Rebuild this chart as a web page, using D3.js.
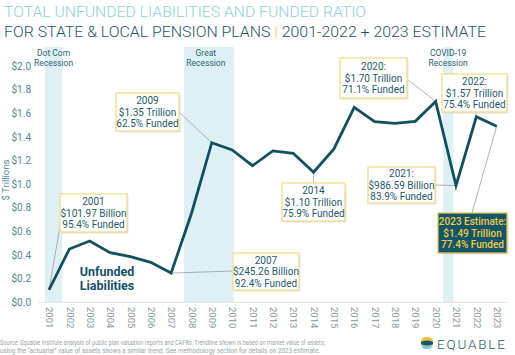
<!DOCTYPE html>
<html>
<head>
<meta charset="utf-8">
<script src="https://cdn.jsdelivr.net/npm/d3@7"></script>
<style>
  html, body { margin: 0; padding: 0; background: #fff; }
  svg { display: block; font-family: Roboto, "DejaVu Sans", sans-serif; }
</style>
</head>
<body>
<svg id="chart" width="515" height="355"></svg>
<script>
// ---------------- DATA ----------------
const years = [2001,2002,2003,2004,2005,2006,2007,2008,2009,2010,2011,2012,2013,2014,2015,2016,2017,2018,2019,2020,2021,2022,2023];
const unfunded = [0.102,0.449,0.517,0.418,0.384,0.336,0.245,0.75,1.35,1.288,1.155,1.28,1.26,1.10,1.297,1.65,1.528,1.514,1.531,1.70,0.987,1.57,1.49];
const yTicks = [0,0.2,0.4,0.6,0.8,1.0,1.2,1.4,1.6,1.8,2.0];
const recessionNames = [["Dot Com","Recession"],["Great","Recession"],["COVID-19","Recession"]];
const recessionSpans = [[2000.8,2001.65],[2007.63,2010.08],[2020.37,2020.86]];
const annotationYears = [2001,2007,2009,2014,2020,2021,2022,2023];
const annotationTexts = [
  ["2001","$101.97 Billion","95.4% Funded"],
  ["2007","$245.26 Billion","92.4% Funded"],
  ["2009","$1.35 Trillion","62.5% Funded"],
  ["2014","$1.10 Trillion","75.9% Funded"],
  ["2020:","$1.70 Trillion","71.1% Funded"],
  ["2021:","$986.59 Billion","83.9% Funded"],
  ["2022:","$1.57 Trillion","75.4% Funded"],
  ["2023 Estimate:","$1.49 Trillion","77.4% Funded"]
];
const seriesLabel = ["Unfunded","Liabilities"];
const titleLine1 = "TOTAL UNFUNDED LIABILITIES AND FUNDED RATIO";
const titleLine2a = "FOR STATE & LOCAL PENSION PLANS ";
const titleLine2b = "|";
const titleLine2c = " 2001-2022 + 2023 ESTIMATE";
const sourceLines = [
  "Source: Equable Institute analysis of public plan valuation reports and CAFRs. Trendline shown is based on market value of assets;",
  "using the \u201cactuarial\u201d value of assets shows a similar trend.  See methodology section for details on 2023 estimate."
];

// ---------------- LAYOUT ----------------
const svg = d3.select("#chart");
const x = d3.scaleLinear().domain([2001, 2023]).range([49, 496.7]);
const y = d3.scaleLinear().domain([0, 2]).range([302, 66]);

const dark = "#124f5f";
const boxText = "#1f5a6a";

// Title
svg.append("text").attr("x", 4).attr("y", 17)
  .attr("font-size", 14).attr("font-weight", 300).attr("fill", "#8fcfd6")
  .attr("textLength", 362).attr("lengthAdjust", "spacingAndGlyphs")
  .text(titleLine1);
const t2 = svg.append("text").attr("x", 4).attr("y", 37)
  .attr("font-size", 15).attr("font-weight", 300).attr("fill", "#1f5463")
  .attr("textLength", 482).attr("lengthAdjust", "spacingAndGlyphs");
t2.append("tspan").text(titleLine2a);
t2.append("tspan").attr("fill", "#f0c542").text(titleLine2b);
t2.append("tspan").text(titleLine2c);

// Recession bands
const rec = svg.append("g");
recessionSpans.forEach((s, i) => {
  rec.append("rect")
    .attr("x", x(s[0])).attr("y", 47)
    .attr("width", x(s[1]) - x(s[0])).attr("height", y(0) - 47)
    .attr("fill", "#dff0f4");
  const cx = (x(s[0]) + x(s[1])) / 2 - (i === 1 ? 3 : 0);
  recessionNames[i].forEach((ln, j) => {
    rec.append("text").attr("x", cx).attr("y", 55.5 + j * 10.5)
      .attr("text-anchor", "middle").attr("font-size", 8.5)
      .attr("fill", "#2c6373").text(ln);
  });
});

// Axis baseline
svg.append("line").attr("x1", 38).attr("x2", 508)
  .attr("y1", y(0) + 0.5).attr("y2", y(0) + 0.5)
  .attr("stroke", "#e6e8e8").attr("stroke-width", 1);

// Y axis
const yAxis = svg.append("g").attr("transform", "translate(31,0)")
  .call(d3.axisLeft(y).tickValues(yTicks).tickSize(0).tickPadding(0)
    .tickFormat(d => "$" + d3.format(".1f")(d)));
yAxis.select(".domain").remove();
yAxis.selectAll("text").attr("font-size", 10).attr("fill", "#4f8893")
  .attr("font-family", "Roboto, sans-serif");

svg.append("text")
  .attr("transform", "translate(9,180) rotate(-90)")
  .attr("text-anchor", "middle").attr("font-size", 9.5)
  .attr("fill", "#4f8893").text("$ Trillions");

// X axis
const xAxis = svg.append("g").attr("transform", `translate(0,${y(0) + 5})`)
  .call(d3.axisBottom(x).tickValues(years).tickSize(0).tickFormat(d3.format("d")));
xAxis.select(".domain").remove();
xAxis.selectAll("text")
  .attr("font-size", 9.5).attr("fill", "#8b989c")
  .attr("font-family", "Roboto, sans-serif")
  .attr("transform", "rotate(90)")
  .attr("text-anchor", "start").attr("dy", "0.35em").attr("x", 0).attr("y", 0);

// Annotation layout (box rect [x, y, w, h], leader end on box)
const boxLayout = {
  2001: {b: [60, 194, 67, 38], lx: 62, ly: 215},
  2007: {b: [233, 253, 66, 37], lx: 233, ly: 271},
  2009: {b: [116, 93, 63, 38], lx: 179, ly: 112},
  2014: {b: [282, 183, 63, 38], lx: null, ly: 183},
  2020: {b: [340, 58, 67, 40], lx: 407, ly: 79},
  2021: {b: [368, 167, 67, 36], lx: 435, ly: 185},
  2022: {b: [442, 74, 65, 38], lx: 476, ly: 112},
  2023: {b: [438, 213, 69, 40], lx: 472, ly: 213}
};

const leaders = svg.append("g");
const line = d3.line().x((d, i) => x(years[i])).y(d => y(d));
annotationYears.forEach((yr, i) => {
  const L = boxLayout[yr];
  const v = unfunded[years.indexOf(yr)];
  leaders.append("line")
    .attr("x1", x(yr)).attr("y1", y(v))
    .attr("x2", L.lx === null ? x(yr) : L.lx).attr("y2", L.ly)
    .attr("stroke", "#8a9599").attr("stroke-width", 0.7);
});

// Line
svg.append("path").datum(unfunded)
  .attr("d", line).attr("fill", "none")
  .attr("stroke", dark).attr("stroke-width", 2.8)
  .attr("stroke-linejoin", "miter");

// Series label
seriesLabel.forEach((t, i) => {
  svg.append("text").attr("x", 107).attr("y", 276 + i * 13.5)
    .attr("text-anchor", "middle").attr("font-size", 12.5)
    .attr("font-weight", "bold").attr("fill", "#17506a").text(t);
});

// Boxes
const boxes = svg.append("g");
annotationYears.forEach((yr, i) => {
  const L = boxLayout[yr];
  const [bx, by, bw, bh] = L.b;
  const est = yr === 2023;
  boxes.append("rect").attr("x", bx + 1.5).attr("y", by + 1.5)
    .attr("width", bw).attr("height", bh).attr("fill", "#d9d9d9").attr("opacity", 0.7);
  boxes.append("rect").attr("x", bx).attr("y", by)
    .attr("width", bw).attr("height", bh)
    .attr("fill", est ? "#145567" : "#ffffff")
    .attr("stroke", est ? "#d9c25a" : "#f2dc8c").attr("stroke-width", 1.3);
  annotationTexts[i].forEach((t, j) => {
    boxes.append("text").attr("x", bx + bw / 2)
      .attr("y", by + bh / 2 + (j - 1) * 11.5).attr("dy", "0.35em")
      .attr("text-anchor", "middle").attr("font-size", 10)
      .attr("fill", est ? "#eccb4a" : boxText)
      .attr("font-weight", est ? 500 : "normal")
      .text(t);
  });
});

// Source
sourceLines.forEach((t, i) => {
  svg.append("text").attr("x", 0).attr("y", 345 + i * 8)
    .attr("font-size", 7.3).attr("fill", "#9aa4a7")
    .attr("textLength", i === 0 ? 325 : 320).attr("lengthAdjust", "spacingAndGlyphs")
    .text(t);
});

// Logo
const logo = svg.append("g");
const cx = 427, cy = 343, r = 6.3;
logo.append("clipPath").attr("id", "lc").append("circle").attr("cx", cx).attr("cy", cy).attr("r", r);
const lg = logo.append("g").attr("clip-path", "url(#lc)");
lg.append("rect").attr("x", cx - r).attr("y", cy - r).attr("width", 2 * r).attr("height", 2 * r).attr("fill", "#86c9d8");
lg.append("rect").attr("x", cx - r).attr("y", cy - r).attr("width", 2 * r).attr("height", r).attr("fill", "#f1c03a");
lg.append("ellipse").attr("cx", cx).attr("cy", cy).attr("rx", r).attr("ry", 2.6).attr("fill", "#1d5566");
logo.append("text").attr("x", 437).attr("y", 349)
  .attr("font-size", 13.5).attr("font-weight", 300).attr("fill", "#1f5566")
  .attr("textLength", 68).attr("lengthAdjust", "spacing")
  .text("EQUABLE");
</script>
</body>
</html>
